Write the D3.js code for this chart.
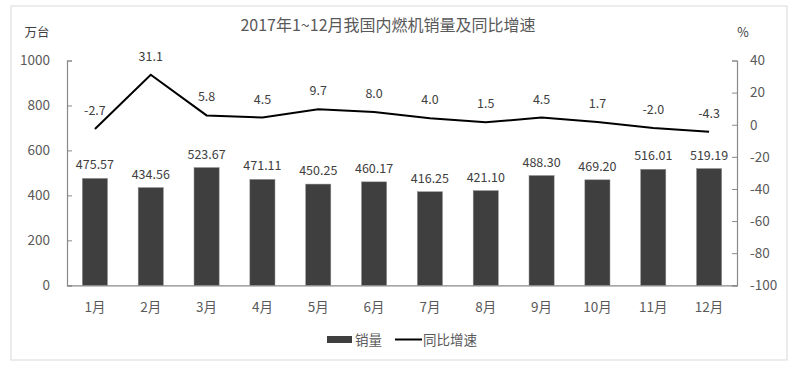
<!DOCTYPE html>
<html><head><meta charset="utf-8">
<script src="https://cdn.jsdelivr.net/npm/d3@7"></script>
<style>body{margin:0;background:#fff;} text{font-family:"Noto Sans CJK SC","Noto Sans",sans-serif;}</style>
</head><body><svg id="c" width="797" height="368"></svg>
<script>
const categories = ["1月","2月","3月","4月","5月","6月","7月","8月","9月","10月","11月","12月"];
const sales = [475.57,434.56,523.67,471.11,450.25,460.17,416.25,421.10,488.30,469.20,516.01,519.19];
const growth = [-2.7,31.1,5.8,4.5,9.7,8.0,4.0,1.5,4.5,1.7,-2.0,-4.3];
const leftTicks = [0,200,400,600,800,1000];
const rightTicks = [40,20,0,-20,-40,-60,-80,-100];

const svg = d3.select("#c");
svg.append("rect").attr("x",11).attr("y",6).attr("width",776).attr("height",354)
  .attr("fill","#fff").attr("stroke","#d9d9d9").attr("stroke-width",1);

const L=67, R=737, T=60.5, B=285.3;
const x = d3.scaleBand().domain(categories).range([L,R]).paddingInner(0.55).paddingOuter(0.275);
const y = d3.scaleLinear().domain([0,1000]).range([B,T]);
const y2 = d3.scaleLinear().domain([-100,40]).range([B,T]);
const fmt = d => String(d);

const axisColor="#898989", labColor="#595959";
const gl = svg.append("g").attr("transform",`translate(${L},0)`)
  .call(d3.axisLeft(y).tickValues(leftTicks).tickFormat(fmt).tickSize(-5).tickPadding(18));
const gr = svg.append("g").attr("transform",`translate(${R},0)`)
  .call(d3.axisRight(y2).tickValues(rightTicks).tickFormat(fmt).tickSize(-5).tickPadding(18));
[gl,gr].forEach(g=>{
  g.select(".domain").attr("stroke",axisColor).attr("stroke-width",1.2);
  g.selectAll(".tick line").attr("stroke",axisColor);
  g.selectAll(".tick text").attr("fill",labColor).attr("font-size",13.5);
});
gl.selectAll(".tick text").attr("x",-17);
gr.selectAll(".tick text").attr("x",13);
// bottom axis
const gb = svg.append("g").attr("transform",`translate(0,${B})`)
  .call(d3.axisBottom(x).tickSize(0).tickPadding(17));
gb.select(".domain").attr("stroke",axisColor).attr("stroke-width",1.2);
gb.selectAll(".tick text").attr("fill",labColor).attr("font-size",13.5);

// bars
svg.append("g").selectAll("rect").data(sales).join("rect")
  .attr("x",(d,i)=>x(categories[i])).attr("width",x.bandwidth())
  .attr("y",d=>y(d)).attr("height",d=>B-y(d))
  .attr("fill","#3f3f3f").attr("stroke","#8c8c8c").attr("stroke-width",0.5);
svg.append("g").selectAll("text").data(sales).join("text")
  .attr("x",(d,i)=>x(categories[i])+x.bandwidth()/2).attr("y",d=>y(d)-9)
  .attr("text-anchor","middle").attr("font-size",12.5).attr("fill","#404040")
  .text(d=>d.toFixed(2));

// line
const cx = (i)=>x(categories[i])+x.bandwidth()/2;
svg.append("path").datum(growth)
  .attr("d",d3.line().x((d,i)=>cx(i)).y(d=>y2(d)))
  .attr("fill","none").attr("stroke","#000").attr("stroke-width",2);
svg.append("g").selectAll("text").data(growth).join("text")
  .attr("x",(d,i)=>cx(i)).attr("y",d=>y2(d)-14)
  .attr("text-anchor","middle").attr("font-size",12.5).attr("fill","#404040")
  .text(d=>d.toFixed(1));

// titles
svg.append("text").attr("x",388).attr("y",31).attr("text-anchor","middle")
  .attr("font-size",16).attr("fill","#595959").text("2017年1~12月我国内燃机销量及同比增速");
svg.append("text").attr("x",37).attr("y",37).attr("text-anchor","middle")
  .attr("font-size",12.5).attr("fill","#404040").text("万台");
svg.append("text").attr("x",743).attr("y",37).attr("text-anchor","middle")
  .attr("font-size",12.5).attr("fill","#404040").text("%");

// legend
svg.append("rect").attr("x",327).attr("y",336).attr("width",25).attr("height",7).attr("fill","#3f3f3f");
svg.append("text").attr("x",355).attr("y",344.5).attr("font-size",13.5).attr("fill","#595959").text("销量");
svg.append("line").attr("x1",395).attr("x2",422).attr("y1",339.5).attr("y2",339.5).attr("stroke","#000").attr("stroke-width",2);
svg.append("text").attr("x",423).attr("y",344.5).attr("font-size",13.5).attr("fill","#595959").text("同比增速");
</script></body></html>
